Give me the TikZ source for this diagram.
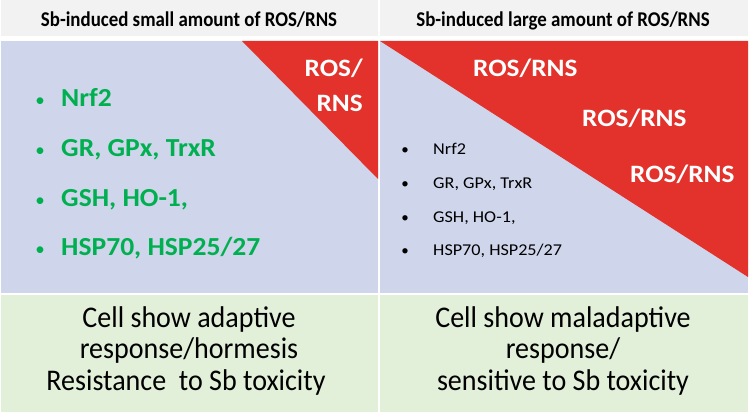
\documentclass[tikz,border=0pt]{standalone}
\usepackage{fontspec}
\setmainfont{Carlito}
\definecolor{hdr}{HTML}{F2F2F2}
\definecolor{lav}{HTML}{CFD5EA}
\definecolor{grn}{HTML}{E2EFD9}
\definecolor{rosred}{HTML}{E3312B}
\definecolor{offgreen}{HTML}{00B050}
\tikzset{
  cell/.style={fill=#1, draw=none},
  hdrtext/.style={font=\fontsize{21}{24}\selectfont\bfseries\addfontfeature{FakeStretch=0.9}, anchor=base, inner sep=0pt},
  gtext/.style={font=\fontsize{26}{30}\selectfont\bfseries\addfontfeature{FakeStretch=1.06}, text=offgreen, anchor=base west, inner sep=0pt},
  gbullet/.style={font=\fontsize{19}{22}\selectfont, text=offgreen, anchor=base, inner sep=0pt},
  btext/.style={font=\fontsize{16.5}{20}\selectfont\addfontfeature{FakeStretch=1.1}, anchor=base west, inner sep=0pt},
  bbullet/.style={font=\fontsize{15}{20}\selectfont, anchor=base, inner sep=0pt},
  rostext/.style={font=\fontsize{25}{28}\selectfont\bfseries\addfontfeature{FakeStretch=1.09}, text=white, inner sep=0pt},
  bottomtext/.style={font=\fontsize{30}{32}\selectfont\addfontfeature{FakeStretch=0.935}, anchor=base, inner sep=0pt},
}
\begin{document}
\begin{tikzpicture}[x=1pt, y=-1pt]
\useasboundingbox (0,0) rectangle (750,414);
% cells
\fill[cell=hdr] (1,0) rectangle (378,36);
\fill[cell=hdr] (380,0) rectangle (748,36);
\fill[cell=lav] (1,41) rectangle (378,293);
\fill[cell=lav] (380,41) rectangle (748,293);
\fill[cell=grn] (1,295) rectangle (378,412);
\fill[cell=grn] (380,295) rectangle (748,412);
% red triangles
\fill[rosred] (242,41) -- (378,41) -- (378,179) -- cycle;
\fill[rosred] (380,41) -- (748,41) -- (748,277) -- cycle;
% headers
\node[hdrtext] (h1) at (189,27) {Sb-induced small amount of ROS/RNS};
\node[hdrtext] (h2) at (563,27) {Sb-induced large amount of ROS/RNS};
% left list
\node[gbullet] (lb1) at (40,107) {•};
\node[gtext] (l1) at (61,107) {Nrf2};
\node[gbullet] (lb2) at (40,157) {•};
\node[gtext] (l2) at (61,157) {GR, GPx, TrxR};
\node[gbullet] (lb3) at (40,207) {•};
\node[gtext] (l3) at (61,207) {GSH, HO-1,};
\node[gbullet] (lb4) at (40,255) {•};
\node[gtext] (l4) at (61,255) {HSP70, HSP25/27};
% left ROS
\node[rostext, anchor=base east] (lr1) at (363,77) {ROS/};
\node[rostext, anchor=base east] (lr2) at (363,112) {RNS};
% right ROS
\node[rostext, anchor=base west] (rr1) at (473,77) {ROS/RNS};
\node[rostext, anchor=base west] (rr2) at (582,127) {ROS/RNS};
\node[rostext, anchor=base west] (rr3) at (630,183) {ROS/RNS};
% right list
\node[bbullet] (rb1) at (405,155) {•};
\node[btext] (r1) at (433,155) {Nrf2};
\node[bbullet] (rb2) at (405,189) {•};
\node[btext] (r2) at (433,189) {GR, GPx, TrxR};
\node[bbullet] (rb3) at (405,223) {•};
\node[btext] (r3) at (433,223) {GSH, HO-1,};
\node[bbullet] (rb4) at (405,256) {•};
\node[btext] (r4) at (433,256) {HSP70, HSP25/27};
% bottom texts
\node[bottomtext] (bl1) at (189,327) {Cell show adaptive};
\node[bottomtext] (bl2) at (189,358) {response/hormesis};
\node[bottomtext] (bl3) at (186,390) {Resistance\ \ to Sb toxicity};
\node[bottomtext] (br1) at (563,327) {Cell show maladaptive};
\node[bottomtext] (br2) at (563,358) {response/};
\node[bottomtext] (br3) at (563,390) {sensitive to Sb toxicity};
\end{tikzpicture}
\end{document}
